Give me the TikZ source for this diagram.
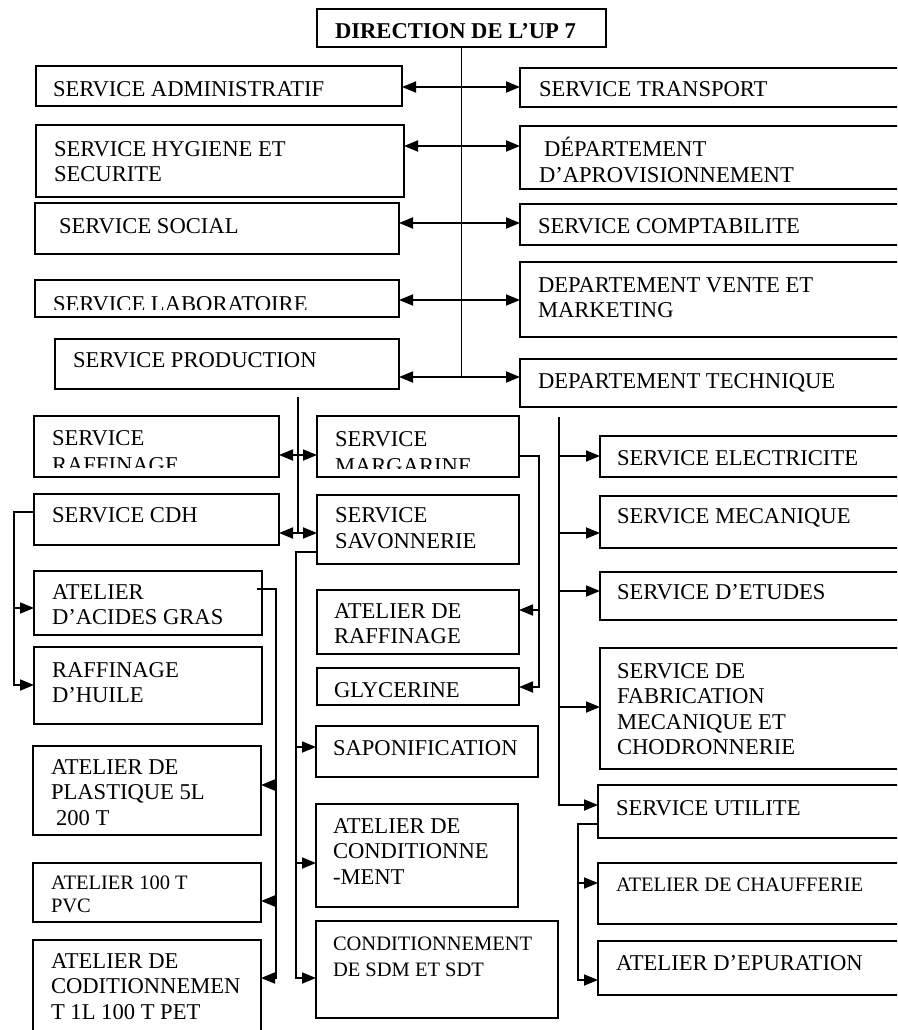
\documentclass[tikz,border=0pt]{standalone}
\usepackage{fontspec}
\setmainfont{Liberation Serif}
\usetikzlibrary{arrows.meta}

% left-aligned multi-line label whose baseline is the first line
\newcommand\stack[1]{\begin{tabular}[t]{@{}l@{}}#1\end{tabular}}
% box from (x1,y1) to (x2,y2) with its label set at baseline point (tx,ty)
\newcommand\orgbox[9]{%
  \node[box, minimum width={(#4)-(#2)}, minimum height={(#5)-(#3)}] (#1)
    at ({((#2)+(#4))/2},{((#3)+(#5))/2}) {};
  \node[lbl,#8] (#1-t) at (#6,#7) {#9};}

\tikzset{
  box/.style={draw, line width=1.6pt, inner sep=0pt, outer sep=0pt},
  lbl/.style={inner sep=0pt, outer sep=0pt, anchor=base west,
              font=\fontsize{22.6}{25.5}\selectfont},
  small/.style={font=\fontsize{20.5}{23}\selectfont},
  smallwide/.style={font=\fontsize{20.5}{26}\selectfont},
  link/.style={line width=1.8pt},
  tip/.style={-{Triangle[length=14pt,width=11pt]}},
  dbl/.style={{Triangle[length=14pt,width=11pt]}-{Triangle[length=14pt,width=11pt]}},
}

\begin{document}
\begin{tikzpicture}[x=1pt,y=-1pt]
\useasboundingbox (0,0) rectangle (897,1030);
\fill[white] (0,0) rectangle (897,1030);
\clip (0,0) rectangle (897,1030);

% ---------- head ----------
\orgbox{dir}{317}{9}{606}{47}{335}{39}{}{\bfseries DIRECTION DE L’UP 7}

% ---------- first level, left ----------
\orgbox{admin}{36}{66}{402}{106}{53}{97}{}{SERVICE ADMINISTRATIF}
\orgbox{hyg}{36}{125}{404}{197}{54}{156}{}{\stack{SERVICE HYGIENE ET\\SECURITE}}
\orgbox{social}{35}{203}{399}{254}{59}{233}{}{SERVICE SOCIAL}
\node[box, minimum width=364pt, minimum height=37pt] (labo) at (217,298.5) {};
\begin{scope}
  \clip (35,280) rectangle (399,309);
  \node[lbl] (labo-t) at (53,311) {SERVICE LABORATOIRE};
\end{scope}
\orgbox{prod}{55}{339}{399}{389}{73}{367}{}{SERVICE PRODUCTION}

% ---------- first level, right ----------
\orgbox{transp}{520}{68}{920}{107}{539}{97}{}{SERVICE TRANSPORT}
\orgbox{appro}{520}{126}{920}{189}{539}{157}{}{\stack{\hspace{5pt}DÉPARTEMENT\\D’APROVISIONNEMENT}}
\orgbox{compta}{520}{204}{920}{245}{538}{233}{}{SERVICE COMPTABILITE}
\orgbox{vente}{520}{262}{920}{337}{538}{292}{}{\stack{DEPARTEMENT VENTE ET\\MARKETING}}
\orgbox{tech}{520}{359}{920}{407}{538}{388}{}{DEPARTEMENT TECHNIQUE}

% row levels
\coordinate (r1) at (0,87);
\coordinate (r2) at (0,146);
\coordinate (r3) at (0,223);
\coordinate (r4) at (0,300);
\coordinate (r5) at (0,377);

\draw[link] (dir.south) -- (dir.south |- r5);
\draw[link,dbl] (admin.east |- r1) -- (transp.west |- r1);
\draw[link,dbl] (hyg.east |- r2) -- (appro.west |- r2);
\draw[link,dbl] (social.east |- r3) -- (compta.west |- r3);
\draw[link,dbl] (labo.east |- r4) -- (vente.west |- r4);
\draw[link,dbl] (prod.east |- r5) -- (tech.west |- r5);

% ---------- production services ----------
\node[box, minimum width=245pt, minimum height=61pt] (sraf) at (156.5,446.5) {};
\begin{scope}
  \clip (34,416) rectangle (279,467);
  \node[lbl] (sraf-t) at (52,445) {\stack{SERVICE\\[2pt]RAFFINAGE}};
\end{scope}
\node[box, minimum width=202pt, minimum height=61pt] (marg) at (418,446.5) {};
\begin{scope}
  \clip (317,416) rectangle (519,468);
  \node[lbl] (marg-t) at (335,446) {\stack{SERVICE\\[2pt]MARGARINE}};
\end{scope}
\orgbox{cdh}{34}{494}{279}{545}{52}{522}{}{SERVICE CDH}
\orgbox{savo}{317}{495}{519}{564}{335}{522}{}{\stack{SERVICE\\[0.5pt]SAVONNERIE}}

\coordinate (p0) at (298,397);
\coordinate (s1) at (0,455);
\coordinate (s2) at (0,533);
\draw[link] (p0) -- (p0 |- s2);
\draw[link,dbl] (sraf.east |- s1) -- (marg.west |- s1);
\draw[link,dbl] (cdh.east |- s2) -- (savo.west |- s2);

% ---------- CDH workshops ----------
\orgbox{acid}{34}{571}{262}{635}{52}{599}{}{\stack{ATELIER\\D’ACIDES GRAS}}
\orgbox{huile}{34}{647}{262}{724}{52}{677}{}{\stack{RAFFINAGE\\D’HUILE}}
\coordinate (cL) at (14,512);
\coordinate (h1) at (0,608);
\coordinate (h2) at (0,685);
\draw[link,tip] (cdh.west |- cL) -- (cL) -- (cL |- h2) -- (huile.west |- h2);
\draw[link,tip] (cL |- h1) -- (acid.west |- h1);

% ---------- plastics and packaging ----------
\orgbox{plast}{33}{746}{261}{835}{51}{774}{}{\stack{ATELIER DE\\PLASTIQUE 5L\\\hspace{5pt}200 T}}
\orgbox{pvc}{33}{863}{261}{922}{51}{889}{small}{\stack{ATELIER 100 T\\PVC}}
\orgbox{cod}{33}{940}{261}{1045}{51}{968}{}{\stack{ATELIER DE\\CODITIONNEMEN\\T 1L 100 T PET}}
\coordinate (a0) at (257,589);
\coordinate (aR) at (276,589);
\coordinate (q1) at (0,785);
\coordinate (q2) at (0,901);
\coordinate (q3) at (0,978);
\draw[link,tip] (a0) -- (aR) -- (aR |- q3) -- (cod.east |- q3);
\draw[link,tip] (aR |- q1) -- (plast.east |- q1);
\draw[link,tip] (aR |- q2) -- (pvc.east |- q2);

% ---------- margarine branch ----------
\orgbox{araf}{317}{590}{519}{654}{334}{618}{}{\stack{ATELIER DE\\RAFFINAGE}}
\orgbox{glyc}{317}{668}{519}{705}{334}{697}{}{GLYCERINE}
\coordinate (g0) at (539,456);
\coordinate (g1) at (0,610);
\coordinate (g2) at (0,687);
\draw[link,tip] (marg.east |- g0) -- (g0) -- (g0 |- g2) -- (glyc.east |- g2);
\draw[link,tip] (g0 |- g1) -- (araf.east |- g1);

% ---------- soap branch ----------
\orgbox{sapo}{316}{726}{538}{777}{333}{755}{}{SAPONIFICATION}
\orgbox{cond}{316}{804}{518}{907}{333}{833}{}{\stack{ATELIER DE\\CONDITIONNE\\-MENT}}
\orgbox{sdm}{316}{921}{558}{1018}{333}{950}{smallwide}{\stack{CONDITIONNEMENT\\DE SDM ET SDT}}
\coordinate (v0) at (296,552);
\coordinate (m1) at (0,747);
\coordinate (m2) at (0,863);
\coordinate (m3) at (0,978);
\draw[link,tip] (savo.west |- v0) -- (v0) -- (v0 |- m3) -- (sdm.west |- m3);
\draw[link,tip] (v0 |- m1) -- (sapo.west |- m1);
\draw[link,tip] (v0 |- m2) -- (cond.west |- m2);

% ---------- technical department ----------
\orgbox{elec}{600}{436}{920}{477}{617}{465}{}{SERVICE ELECTRICITE}
\orgbox{meca}{600}{496}{920}{548}{617}{523}{}{SERVICE MECANIQUE}
\orgbox{etud}{600}{572}{920}{620}{617}{599}{}{SERVICE D’ETUDES}
\orgbox{fabr}{600}{648}{920}{769}{617}{678}{}{\stack{SERVICE DE\\FABRICATION\\MECANIQUE ET\\CHODRONNERIE}}
\orgbox{util}{598}{785}{920}{838}{616}{815}{}{SERVICE UTILITE}
\coordinate (t0) at (559,417);
\coordinate (e1) at (0,456);
\coordinate (e2) at (0,533);
\coordinate (e3) at (0,591);
\coordinate (e4) at (0,707);
\coordinate (e5) at (0,805);
\draw[link,tip] (t0) -- (t0 |- e5) -- (util.west |- e5);
\draw[link,tip] (t0 |- e1) -- (elec.west |- e1);
\draw[link,tip] (t0 |- e2) -- (meca.west |- e2);
\draw[link,tip] (t0 |- e3) -- (etud.west |- e3);
\draw[link,tip] (t0 |- e4) -- (fabr.west |- e4);

% ---------- utilities workshops ----------
\orgbox{chauf}{598}{863}{920}{924}{616}{891}{small}{ATELIER DE CHAUFFERIE}
\orgbox{epur}{598}{941}{920}{995}{616}{970}{}{ATELIER D’EPURATION}
\coordinate (w0) at (578,824);
\coordinate (k1) at (0,883);
\coordinate (k2) at (0,980);
\draw[link,tip] (util.west |- w0) -- (w0) -- (w0 |- k2) -- (epur.west |- k2);
\draw[link,tip] (w0 |- k1) -- (chauf.west |- k1);
\end{tikzpicture}
\end{document}
